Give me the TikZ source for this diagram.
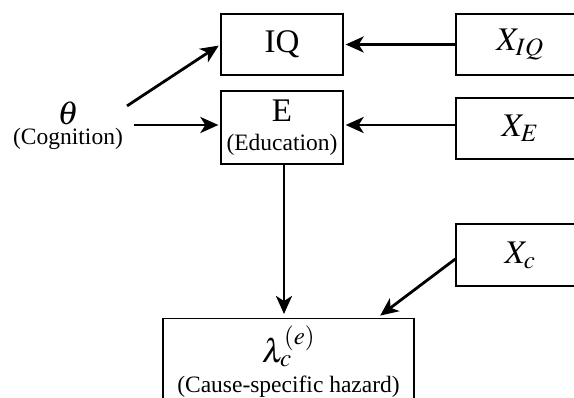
\documentclass[tikz,border=0pt]{standalone}
\usepackage{mathptmx}
\usepackage[no-math]{fontspec}
\setmainfont{Liberation Serif}
\usetikzlibrary{arrows.meta}

\DeclareMathSizes{33}{33}{25}{20}
\newcommand{\bigsz}{\fontsize{33}{36}\selectfont}
\newcommand{\smsz}{\fontsize{23.5}{27}\selectfont}

\begin{document}
\begin{tikzpicture}[x=1pt, y=1pt,
  box/.style={draw, line width=1.3pt, inner sep=0pt, align=center, font=\smsz},
  arr/.style={line width=2.8pt, -{Stealth[length=18pt, width=16pt, inset=5pt]}}]
  \clip (0,0) rectangle (574,-398);
  \node[box, minimum width=122pt, minimum height=61pt] (IQ) at (282,-44.5) {\bigsz IQ};
  \node[box, minimum width=122pt, minimum height=73pt] (E) at (282,-127.5)
    {{\bigsz E}\\[2pt](Education)};
  \node[box, minimum width=128pt, minimum height=61pt] (XIQ) at (520,-44.5) {\bigsz $X_{IQ}$};
  \node[box, minimum width=128pt, minimum height=61pt] (XE) at (520,-128.5) {\bigsz $X_E$};
  \node[box, minimum width=128pt, minimum height=62pt] (Xc) at (520,-255) {\bigsz $X_c$};
  \node[box, minimum width=251pt, inner ysep=7pt, anchor=north] (lam) at (288.5,-318)
    {{\bigsz $\lambda_c^{(e)}$}\\[3pt](Cause-specific hazard)};
  \node[align=center, inner sep=2pt, font=\smsz] (cog) at (68,-126) {{\bigsz $\theta$}\\[-7pt](Cognition)};
  \coordinate (cogE) at ([xshift=9pt,yshift=2.5pt]E.west -| cog.east);
  \draw[arr, shorten >=2pt] ([xshift=2pt,yshift=-6pt]cog.north east) -- (IQ.west);
  \draw[arr, shorten >=2pt] (cogE) -- ([yshift=2.5pt]E.west);
  \draw[arr, shorten >=2pt] (XIQ.west) -- (IQ.east);
  \draw[arr, shorten >=2pt] ([yshift=3.5pt]XE.west) -- ([yshift=2.5pt]E.east);
  \draw[arr, shorten >=4pt] ([xshift=2pt]E.south) -- ([xshift=-4.5pt]lam.north);
  \draw[arr, shorten >=4pt] ([yshift=-4pt]Xc.west) -- ([xshift=88.5pt]lam.north);
\end{tikzpicture}
\end{document}
